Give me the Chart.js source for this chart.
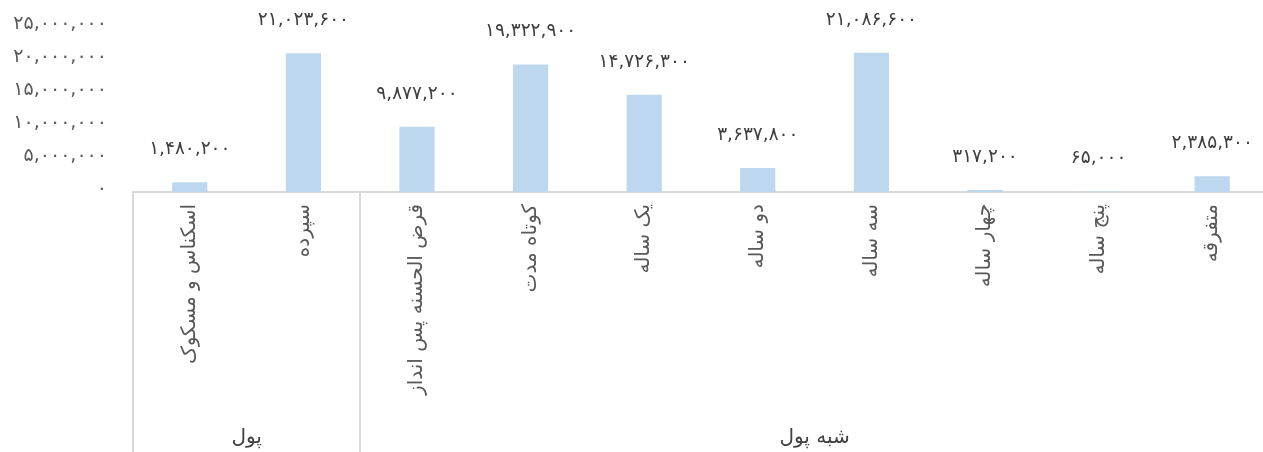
<!DOCTYPE html>
<html lang="fa">
<head>
<meta charset="utf-8">
<title>نقدینگی</title>
<script src="https://cdn.jsdelivr.net/npm/chart.js@4.4.1/dist/chart.umd.min.js"></script>
<style>
  html, body { margin: 0; padding: 0; background: #ffffff; overflow: hidden; }
  #wrap { position: relative; width: 1270px; height: 452px; }
</style>
</head>
<body>
<div id="wrap"><canvas id="chart"></canvas></div>
<script>
// Categories (inner level) and their parent groups
const categories = ['اسکناس و مسکوک', 'سپرده', 'قرض الحسنه پس انداز', 'کوتاه مدت', 'یک ساله', 'دو ساله', 'سه ساله', 'چهار ساله', 'پنج ساله', 'متفرقه'];
const groups = ['پول', 'شبه پول'];
const groupSizes = [2, 8];
const values = [1480200, 21023600, 9877200, 19322900, 14726300, 3637800, 21086600, 317200, 65000, 2385300];
const yTicks = [0, 5000000, 10000000, 15000000, 20000000, 25000000];

const FONT = "'DejaVu Sans', sans-serif";
const faDigits = '۰۱۲۳۴۵۶۷۸۹';
function toFa(n) {
  return Number(n).toLocaleString('en-US').replace(/\d/g, d => faDigits[d]);
}

// Value labels above each bar
const barLabels = {
  id: 'barLabels',
  afterDatasetsDraw(chart) {
    const ctx = chart.ctx;
    const meta = chart.getDatasetMeta(0);
    ctx.save();
    ctx.font = '18.5px ' + FONT;
    ctx.fillStyle = '#404040';
    ctx.textAlign = 'center';
    ctx.textBaseline = 'middle';
    meta.data.forEach((bar, i) => {
      ctx.fillText(toFa(values[i]), bar.x, bar.y - 33);
    });
    ctx.restore();
  }
};

// Group separators and group names under the category labels
const groupAxis = {
  id: 'groupAxis',
  afterDraw(chart) {
    const ctx = chart.ctx;
    const x = chart.scales.x;
    const bottom = chart.chartArea.bottom;
    const half = (x.getPixelForValue(1) - x.getPixelForValue(0)) / 2;
    ctx.save();
    ctx.strokeStyle = '#d9d9d9';
    ctx.lineWidth = 2;
    let start = 0;
    const edges = [x.getPixelForValue(0) - half];
    groupSizes.forEach(size => {
      const end = start + size - 1;
      edges.push(x.getPixelForValue(end) + half);
      start += size;
    });
    edges.forEach(px => {
      ctx.beginPath();
      ctx.moveTo(Math.round(px), bottom);
      ctx.lineTo(Math.round(px), chart.height);
      ctx.stroke();
    });
    ctx.font = '20px ' + FONT;
    ctx.fillStyle = '#404040';
    ctx.textAlign = 'center';
    ctx.textBaseline = 'middle';
    groups.forEach((g, i) => {
      ctx.fillText(g, (edges[i] + edges[i + 1]) / 2, 438);
    });
    ctx.restore();
  }
};

new Chart(document.getElementById('chart'), {
  type: 'bar',
  data: {
    labels: categories,
    datasets: [{
      data: values,
      backgroundColor: '#bdd7ee',
      borderWidth: 0,
      barPercentage: 0.62,
      categoryPercentage: 0.5
    }]
  },
  options: {
    responsive: true,
    maintainAspectRatio: false,
    animation: false,
    layout: { padding: { top: 27, right: 1, left: 0, bottom: 0 } },
    plugins: { legend: { display: false }, tooltip: { enabled: false } },
    scales: {
      x: {
        grid: { display: false, drawTicks: false },
        border: { display: true, color: '#d9d9d9', width: 2 },
        ticks: {
          autoSkip: false,
          maxRotation: 90,
          minRotation: 90,
          padding: 12,
          color: '#595959',
          font: { family: FONT, size: 20 }
        },
        afterFit(scale) { scale.height = 260; }
      },
      y: {
        min: 0,
        max: 25000000,
        afterBuildTicks(scale) { scale.ticks = yTicks.map(v => ({ value: v })); },
        grid: { display: false, drawTicks: false },
        border: { display: false },
        ticks: {
          padding: 26,
          labelOffset: -3,
          color: '#595959',
          font: { family: FONT, size: 19 },
          callback: v => toFa(v)
        },
        afterFit(scale) { scale.width = 133; scale.paddingTop = 0; scale.paddingBottom = 0; }
      }
    }
  },
  plugins: [barLabels, groupAxis]
});
</script>
</body>
</html>
